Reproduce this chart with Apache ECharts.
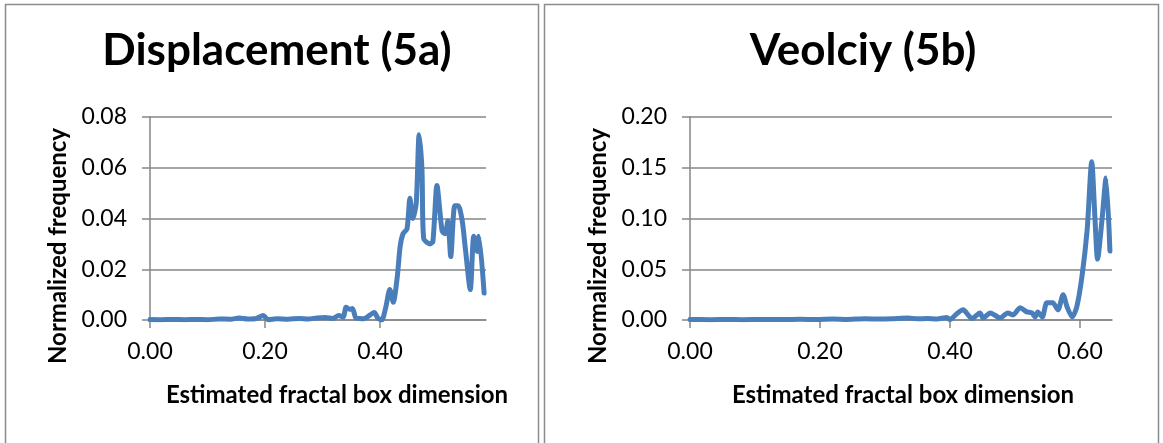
<!DOCTYPE html>
<html>
<head>
<meta charset="utf-8">
<script src="https://cdn.jsdelivr.net/npm/echarts@6/dist/echarts.min.js"></script>
<style>
html,body{margin:0;padding:0;background:#fff;}
#c{width:1163px;height:443px;}
</style>
</head>
<body>
<div id="c"></div>
<script>
// ---- Data ----
const titleA = 'Displacement (5a)';
const titleB = 'Veolciy (5b)';
const xName = 'Estimated fractal box dimension';
const yName = 'Normalized frequency';

const dispX = [0.000,0.020,0.040,0.060,0.080,0.100,0.120,0.140,0.155,0.170,0.185,0.197,0.205,0.220,0.240,0.260,0.275,0.290,0.305,0.318,0.328,0.336,0.341,0.347,0.352,0.358,0.365,0.372,0.378,0.390,0.396,0.403,0.410,0.417,0.423,0.430,0.435,0.440,0.447,0.452,0.457,0.463,0.468,0.473,0.476,0.487,0.492,0.499,0.508,0.513,0.518,0.523,0.530,0.536,0.543,0.548,0.557,0.563,0.569,0.572,0.581];
const dispY = [0.0002,0.0001,0.0002,0.0001,0.0002,0.0001,0.0004,0.0003,0.0008,0.0004,0.0006,0.0018,0.0001,0.0005,0.0003,0.0006,0.0004,0.0008,0.0010,0.0006,0.0018,0.0012,0.0050,0.0042,0.0045,0.0008,0.0006,0.0005,0.0012,0.0030,0.0008,0.0000,0.0050,0.0120,0.0070,0.0170,0.0290,0.0340,0.0360,0.0480,0.0400,0.0460,0.0730,0.0590,0.0320,0.0300,0.0310,0.0530,0.0350,0.0340,0.0390,0.0250,0.0450,0.0450,0.0390,0.0290,0.0120,0.0330,0.0270,0.0330,0.0106];

const veloX = [0.000,0.030,0.060,0.080,0.110,0.140,0.170,0.195,0.220,0.240,0.270,0.290,0.310,0.335,0.350,0.365,0.380,0.395,0.400,0.410,0.420,0.434,0.446,0.451,0.462,0.477,0.489,0.497,0.508,0.518,0.526,0.531,0.535,0.542,0.549,0.558,0.566,0.574,0.580,0.588,0.595,0.603,0.611,0.618,0.623,0.627,0.634,0.640,0.646];
const veloY = [0.0005,0.0003,0.0006,0.0003,0.0005,0.0004,0.0007,0.0005,0.0009,0.0006,0.0012,0.0010,0.0012,0.0020,0.0012,0.0015,0.0010,0.0025,0.0005,0.0060,0.0100,0.0015,0.0070,0.0020,0.0070,0.0020,0.0070,0.0050,0.0120,0.0080,0.0070,0.0030,0.0080,0.0030,0.0170,0.0170,0.0100,0.0250,0.0130,0.0030,0.0130,0.0430,0.0890,0.1560,0.1000,0.0600,0.1000,0.1400,0.0680];

const xTicksA = [0, 0.2, 0.4];
const xTicksB = [0, 0.2, 0.4, 0.6];
const yTicksA = [0, 0.02, 0.04, 0.06, 0.08];
const yTicksB = [0, 0.05, 0.10, 0.15, 0.20];

// ---- Chart ----
const FONT = 'Lato';
const GRAY = '#868686';
const LINE = '#4a7ebb';
const pairs = (xs, ys) => xs.map((x, i) => [x, ys[i]]);

function xAxis(idx, max, ticks) {
  return {
    type: 'value', gridIndex: idx, min: 0, max: max,
    splitLine: {show: false},
    axisLine: {show: true, onZero: false, lineStyle: {color: GRAY, width: 1.5}},
    axisTick: {show: true, length: 8, customValues: ticks, lineStyle: {color: GRAY, width: 1.5}},
    axisLabel: {customValues: ticks, margin: 20, color: '#000', fontFamily: FONT, fontSize: 23,
      formatter: v => v.toFixed(2)}
  };
}
function yAxis(idx, ticks) {
  return {
    type: 'value', gridIndex: idx, min: ticks[0], max: ticks[ticks.length - 1],
    interval: ticks[1] - ticks[0],
    splitLine: {show: true, lineStyle: {color: GRAY, width: 1.5}},
    axisLine: {show: true, lineStyle: {color: GRAY, width: 1.5}},
    axisTick: {show: true, length: 8, lineStyle: {color: GRAY, width: 1.5}},
    axisLabel: {margin: 23, color: '#000', fontFamily: FONT, fontSize: 23,
      formatter: v => v.toFixed(2)}
  };
}
function lineSeries(idx, data) {
  return {
    type: 'line', xAxisIndex: idx, yAxisIndex: idx, data: data,
    showSymbol: false, symbol: 'none', smooth: 0.25,
    lineStyle: {color: LINE, width: 5, cap: 'round', join: 'round'},
    animation: false
  };
}

const chart = echarts.init(document.getElementById('c'), null, {renderer: 'canvas'});
chart.setOption({
  animation: false,
  backgroundColor: '#fff',
  title: [
    {text: titleA, left: 272, top: 24, textAlign: 'center',
      textStyle: {fontFamily: FONT, fontWeight: 'bold', fontSize: 44, color: '#000'}},
    {text: titleB, left: 858, top: 24, textAlign: 'center',
      textStyle: {fontFamily: FONT, fontWeight: 'bold', fontSize: 44, color: '#000'}}
  ],
  grid: [
    {left: 150, top: 117, width: 336, height: 203},
    {left: 690, top: 117, width: 422, height: 203}
  ],
  xAxis: [xAxis(0, 0.5843, xTicksA), xAxis(1, 0.6492, xTicksB)],
  yAxis: [yAxis(0, yTicksA), yAxis(1, yTicksB)],
  series: [lineSeries(0, pairs(dispX, dispY)), lineSeries(1, pairs(veloX, veloY))],
  graphic: [
    {type: 'rect', shape: {x: 5.5, y: 4.5, width: 533, height: 460}, style: {fill: null, stroke: '#8c8c8c', lineWidth: 1.5}},
    {type: 'rect', shape: {x: 544.5, y: 4.5, width: 614, height: 460}, style: {fill: null, stroke: '#8c8c8c', lineWidth: 1.5}},
    {type: 'text', x: 337, y: 395, style: {text: xName, fontFamily: FONT, fontWeight: 'bold', fontSize: 24, fill: '#000', align: 'center', verticalAlign: 'middle'}},
    {type: 'text', x: 903, y: 395, style: {text: xName, fontFamily: FONT, fontWeight: 'bold', fontSize: 24, fill: '#000', align: 'center', verticalAlign: 'middle'}},
    {type: 'text', x: 58, y: 246, rotation: Math.PI / 2, style: {text: yName, fontFamily: FONT, fontWeight: 'bold', fontSize: 24, fill: '#000', align: 'center', verticalAlign: 'middle'}},
    {type: 'text', x: 598, y: 246, rotation: Math.PI / 2, style: {text: yName, fontFamily: FONT, fontWeight: 'bold', fontSize: 24, fill: '#000', align: 'center', verticalAlign: 'middle'}}
  ]
});
</script>
</body>
</html>
